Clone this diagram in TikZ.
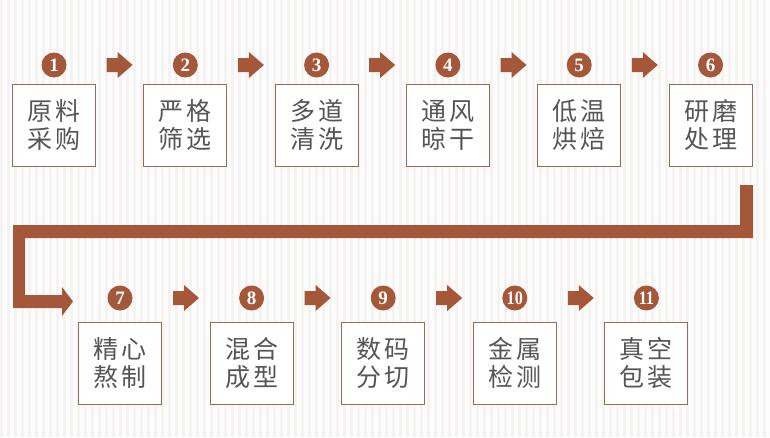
\documentclass[tikz,border=0pt]{standalone}
\usepackage{fontspec}
\newfontfamily\cjk{Noto Sans CJK SC}
\newfontfamily\numf{Liberation Serif}
\newcommand\gapk{\kern3pt}
\begin{document}
\begin{tikzpicture}[x=1pt,y=-1pt,
  stepbox/.style={draw=boxc,line width=1pt,minimum width=83pt,minimum height=82pt,inner sep=0pt,
     font=\cjk\fontsize{25}{28}\selectfont,text=textc,align=center},
  num/.style={circle,fill=arrowc,minimum size=25pt,inner sep=0pt,text=white,font=\numf\bfseries\fontsize{19}{19}\selectfont},
  barrow/.pic={\fill[arrowc] (-13,-7) -- (-2,-7) -- (-2,-13) -- (13,0) -- (-2,13) -- (-2,7) -- (-13,7) -- cycle;}
]
\definecolor{arrowc}{HTML}{A5573A}
\definecolor{boxc}{HTML}{9A6A55}
\definecolor{textc}{HTML}{555555}
\definecolor{bgc}{HTML}{FDFCFC}
\definecolor{stripec}{HTML}{F4F3F2}
\useasboundingbox (0,0) rectangle (770,437);
\fill[bgc] (0,0) rectangle (770,437);
\foreach \i in {0,...,110} {\fill[stripec] (\i*7,0) rectangle (\i*7+2.5,437);}
% top row
\foreach \t [count=\i from 0] in {原\gapk 料\\采\gapk 购,严\gapk 格\\筛\gapk 选,多\gapk 道\\清\gapk 洗,通\gapk 风\\晾\gapk 干,低\gapk 温\\烘\gapk 焙,研\gapk 磨\\处\gapk 理}{
  \pgfmathsetmacro\cx{54+131.3*\i}
  \node[stepbox,fill=white] (b\i) at (\cx,125) {\t};
  \pgfmathtruncatemacro\n{\i+1}
  \node[num] (n\i) at (\cx,65) {\n};
}
\foreach \i in {0,...,4}{\pgfmathsetmacro\ax{54+131.3*\i+65.6}\pic at (\ax,65) {barrow};}
% bottom row
\foreach \t [count=\i from 0] in {精\gapk 心\\熬\gapk 制,混\gapk 合\\成\gapk 型,数\gapk 码\\分\gapk 切,金\gapk 属\\检\gapk 测,真\gapk 空\\包\gapk 装}{
  \pgfmathsetmacro\cx{120+131.6*\i}
  \node[stepbox,fill=white] (c\i) at (\cx,363) {\t};
  \pgfmathtruncatemacro\n{\i+7}
  \ifnum\n>9
    \node[num] (m\i) at (\cx,298) {\scalebox{0.85}[1]{\n}};
  \else
    \node[num] (m\i) at (\cx,298) {\n};
  \fi
}
\foreach \i in {0,...,3}{\pgfmathsetmacro\ax{120+131.6*\i+66}\pic at (\ax,298) {barrow};}
% long connector
\coordinate (s) at (740,185);
\coordinate (e) at (73,301.5);
\fill[arrowc] (s) -- (753,185) -- (753,238) -- (25,238) -- (25,295) -- (62,295) -- (62,287) -- (e) -- (62,316) -- (62,308) -- (13,308) -- (13,225) -- (740,225) -- cycle;
\end{tikzpicture}
\end{document}
